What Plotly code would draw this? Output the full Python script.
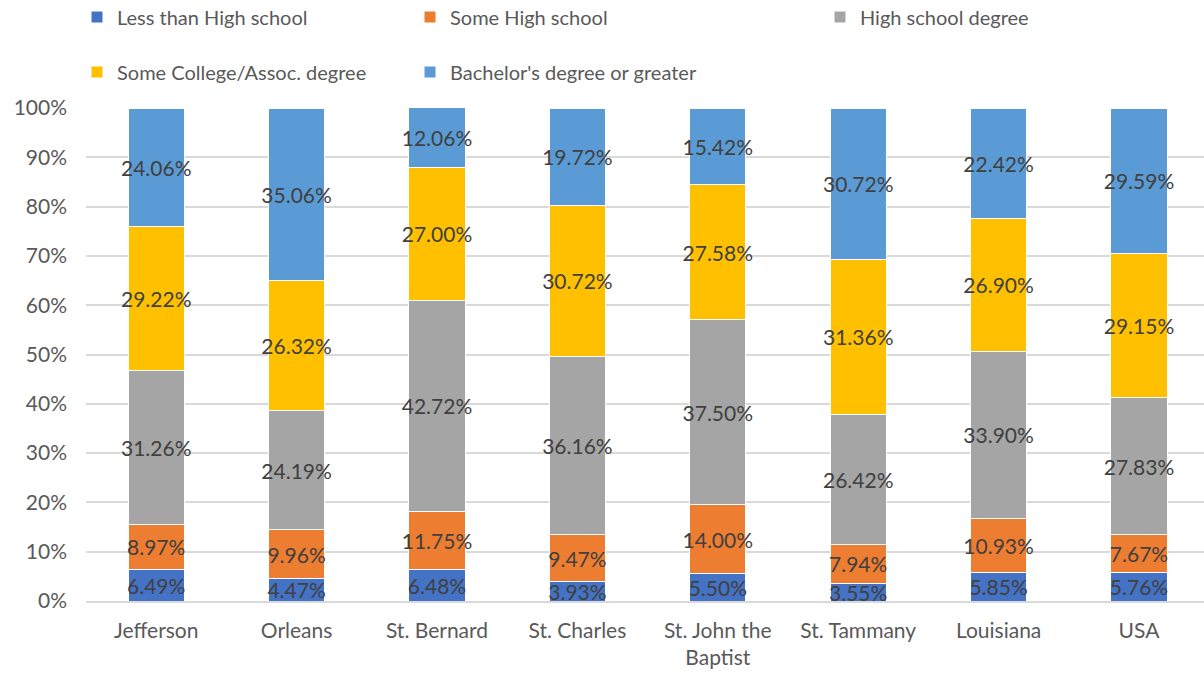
import plotly.graph_objects as go

categories = ["Jefferson", "Orleans", "St. Bernard", "St. Charles",
              "St. John the<br>Baptist", "St. Tammany", "Louisiana", "USA"]

less_than_hs = [6.49, 4.47, 6.48, 3.93, 5.50, 3.55, 5.85, 5.76]
some_hs = [8.97, 9.96, 11.75, 9.47, 14.00, 7.94, 10.93, 7.67]
hs_degree = [31.26, 24.19, 42.72, 36.16, 37.50, 26.42, 33.90, 27.83]
some_college = [29.22, 26.32, 27.00, 30.72, 27.58, 31.36, 26.90, 29.15]
bachelors = [24.06, 35.06, 12.06, 19.72, 15.42, 30.72, 22.42, 29.59]

series_names = ["Less than High school", "Some High school", "High school degree",
                "Some College/Assoc. degree", "Bachelor's degree or greater"]
series_values = [less_than_hs, some_hs, hs_degree, some_college, bachelors]
colors = ["#4472C4", "#ED7D31", "#A5A5A5", "#FFC000", "#5B9BD5"]

FONT = "Lato"
W, H = 1204, 674

# legend positions (container px): (x of legend box, y center of row)
legend_pos = [(77, 17), (410, 17), (820, 17), (77, 72), (410, 72)]

fig = go.Figure()
legend_ids = ["legend", "legend2", "legend3", "legend4", "legend5"]
for name, vals, col, lid in zip(series_names, series_values, colors, legend_ids):
    fig.add_trace(go.Bar(
        x=categories, y=vals, name=name,
        marker=dict(color=col, line=dict(color="white", width=1)),
        texttemplate="%{y:.2f}%", textposition="inside",
        insidetextanchor="middle", textangle=0,
        textfont=dict(family=FONT, size=21, color="#404040"),
        legend=lid,
    ))

layout_legends = {}
for lid, (lx, ly) in zip(legend_ids, legend_pos):
    layout_legends[lid] = dict(
        x=lx / W, xref="container", xanchor="left",
        y=1 - ly / H, yref="container", yanchor="middle",
        orientation="h", bgcolor="rgba(0,0,0,0)",
        font=dict(family=FONT, size=20, color="#595959"),
    )

fig.update_layout(
    barmode="stack", bargap=0.6,
    width=W, height=H,
    margin=dict(l=86, r=0, t=108, b=73),
    plot_bgcolor="white", paper_bgcolor="white",
    font=dict(family=FONT, size=20, color="#595959"),
    uniformtext=dict(minsize=21, mode="show"),
    showlegend=True,
    **layout_legends,
)
fig.update_yaxes(range=[0, 100], dtick=10, ticksuffix="%",
                 gridcolor="#D9D9D9", gridwidth=1.5, zeroline=False,
                 ticklabelstandoff=18,
                 tickfont=dict(family=FONT, size=21, color="#595959"))
fig.update_xaxes(range=[-0.5, 7.463], showgrid=False,
                 showline=True, linecolor="#D9D9D9", linewidth=1.5,
                 ticklabelstandoff=10,
                 tickfont=dict(family=FONT, size=21, color="#595959"))

fig.write_html("out.html")
